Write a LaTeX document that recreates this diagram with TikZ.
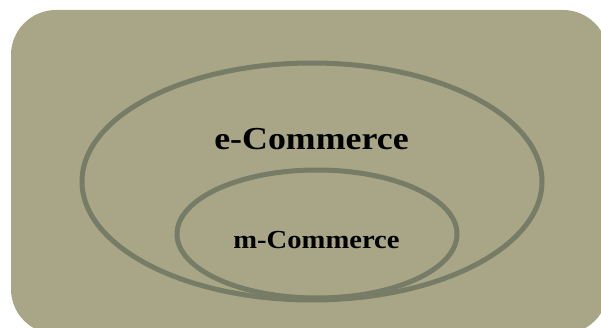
\documentclass[tikz,border=0pt]{standalone}
\usepackage{graphicx}
\usepackage{fontspec}
\setmainfont{Liberation Serif}
\definecolor{bgolive}{RGB}{168,166,134}
\definecolor{ringolive}{RGB}{118,124,102}
\tikzset{
  ring/.style={draw=ringolive, line width=5pt},
  biglabel/.style={anchor=base, inner sep=0pt, font=\bfseries\fontsize{32}{34}\selectfont},
  smalllabel/.style={anchor=base, inner sep=0pt, font=\bfseries\fontsize{26}{28}\selectfont},
}
\begin{document}
\begin{tikzpicture}[x=1pt,y=1pt]
\useasboundingbox (0,0) rectangle (601,327);
\clip (0,0) rectangle (601,327);
\fill[bgolive, rounded corners=45pt] (11,317) rectangle (608,-7);
\draw[ring] (312,145.5) ellipse [x radius=230, y radius=118.5];
\draw[ring] (317,93) ellipse [x radius=140, y radius=64];
\node[biglabel] (ecom) at (311.5,178) {\scalebox{1.12}[1]{e-Commerce}};
\node[smalllabel] (mcom) at (316.5,79) {\scalebox{1.1}[1]{m-Commerce}};
\end{tikzpicture}
\end{document}
